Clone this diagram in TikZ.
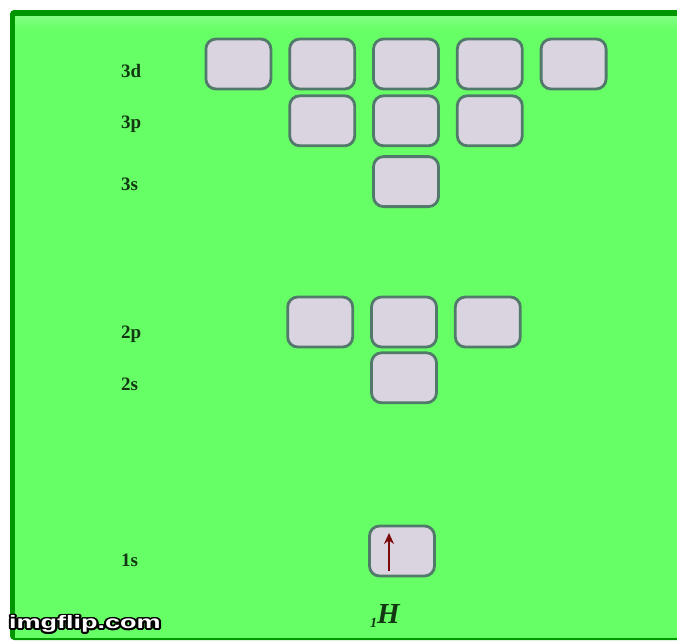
\documentclass[tikz,border=0pt]{standalone}
\usepackage{fontspec}
\setmainfont{Liberation Serif}
\newfontfamily\markfont{Liberation Sans}
\usepackage{contour}
\contourlength{1.4pt}
\usetikzlibrary{positioning, arrows.meta}

\definecolor{bggreen}{RGB}{102,255,102}
\definecolor{topgreen}{RGB}{130,255,130}
\definecolor{framegreen}{RGB}{0,150,0}
\definecolor{orbfill}{RGB}{218,211,224}
\definecolor{orbline}{RGB}{82,122,106}
\definecolor{lbltext}{RGB}{18,55,18}
\definecolor{spinred}{RGB}{125,10,10}

\begin{document}
\begin{tikzpicture}[x=1pt, y=-1pt,
        node distance=16pt and 16pt,
        orb/.style={rectangle, rounded corners=10pt, draw=orbline, fill=orbfill, line width=2.8pt, minimum width=65pt, minimum height=50pt, inner sep=0pt},
        lvl/.style={anchor=base west, inner sep=0pt, text=lbltext, font=\fontsize{19}{19}\selectfont\bfseries},
        spin/.style={-{Stealth[length=11pt, width=10pt]}, line width=2.4pt, draw=spinred},
    ]
        \useasboundingbox (0,0) rectangle (677,641);
        \fill[white] (0,0) rectangle (677,641);

        % Frame
        \fill[framegreen, rounded corners=4pt] (10,640) |- (690,10) -- (690,640) -- cycle;
        \fill[bggreen] (15,638) rectangle (677,16);
        \shade[top color=topgreen, bottom color=bggreen] (15,16) rectangle (677,30);

        % 3d orbitals
        \node[orb] (o3d3) at (406,64) {};
        \node[orb, left=of o3d3] (o3d2) {};
        \node[orb, left=of o3d2] (o3d1) {};
        \node[orb, right=of o3d3] (o3d4) {};
        \node[orb, right=of o3d4] (o3d5) {};

        % 3p and 3s orbitals
        \node[orb, below=4pt of o3d3] (o3p2) {};
        \node[orb, left=of o3p2] (o3p1) {};
        \node[orb, right=of o3p2] (o3p3) {};
        \node[orb, below=8pt of o3p2] (o3s) {};

        % 2p and 2s orbitals
        \node[orb] (o2p2) at (404,322) {};
        \node[orb, left=of o2p2] (o2p1) {};
        \node[orb, right=of o2p2] (o2p3) {};
        \node[orb, below=3pt of o2p2] (o2s) {};

        % 1s orbital with one electron
        \node[orb] (o1s) at (402,551) {};
        \draw[spin] ([shift={(-13,20)}]o1s.center) -- ([shift={(-13,-18)}]o1s.center);

        % Level labels
        \node[lvl] (l3d) at (121,77) {3d};
        \node[lvl] (l3p) at (121,128) {3p};
        \node[lvl] (l3s) at (121,190) {3s};
        \node[lvl] (l2p) at (121,338) {2p};
        \node[lvl] (l2s) at (121,390) {2s};
        \node[lvl] (l1s) at (121,566) {1s};

        % Element symbol
        \node[anchor=base west, inner sep=0pt, text=lbltext, font=\bfseries\itshape] (elem) at (370,623) {\raisebox{-4pt}{\fontsize{14}{14}\selectfont 1}\fontsize{29}{29}\selectfont H};

        % Watermark
        \node[anchor=west, inner sep=0pt, font=\markfont\bfseries\fontsize{18}{18}\selectfont] (mark) at (9,625) {\scalebox{1.5}[1]{\contour{black}{\textcolor{white}{imgflip.com}}}};
    \end{tikzpicture}
\end{document}
